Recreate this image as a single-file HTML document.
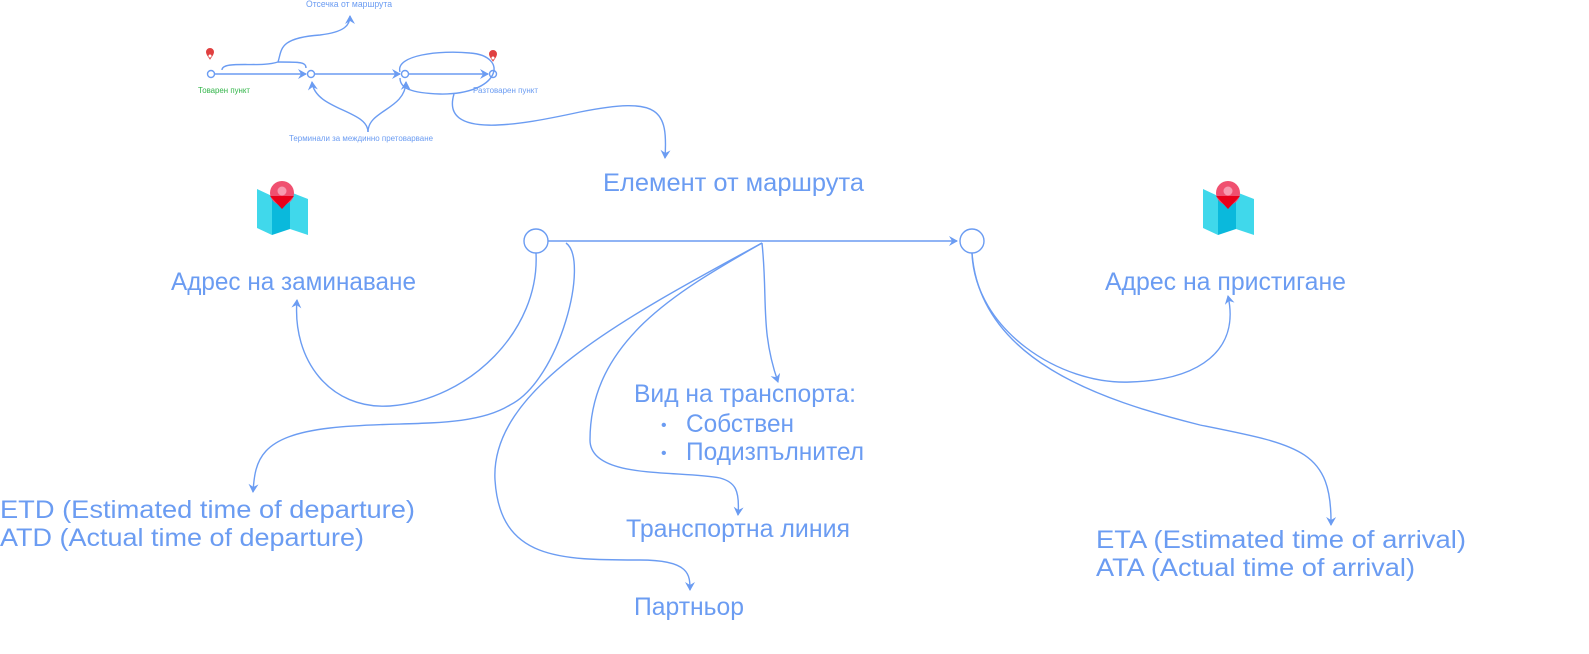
<!DOCTYPE html>
<html><head><meta charset="utf-8"><style>
body{margin:0;background:#fff;width:1589px;height:649px;overflow:hidden}
svg text{font-family:"Liberation Sans",sans-serif;fill:#6b9cf2}
</style></head><body>
<svg width="1589" height="649" viewBox="0 0 1589 649" xmlns="http://www.w3.org/2000/svg">
<defs>
<marker id="a" markerWidth="10" markerHeight="10" refX="8" refY="5" orient="auto" markerUnits="userSpaceOnUse"><path d="M0,0 L9,5 L0,10 L3,5 Z" fill="#6b9cf2"/></marker>
<g id="map">
<path d="M0,0 L15,7 L15,46 L0,39Z" fill="#40d8eb"/>
<path d="M15,7 L33,3 L33,40 L15,46Z" fill="#0ab9dc"/>
<path d="M33,3 L51,10 L51,46 L33,40Z" fill="#40d8eb"/>
<circle cx="25" cy="4" r="12" fill="#f05070"/>
<path d="M13,7 L37,7 L25,20Z" fill="#e8001a"/>
<circle cx="25" cy="2" r="4.5" fill="#f79ab0"/>
</g>
<g id="pin"><path d="M0,0 a4,4 0 1 1 8,0 c0,3 -4,7 -4,8 c0,-1 -4,-5 -4,-8z" fill="#e04040" transform="translate(-4,-4)"/><circle cx="0" cy="0" r="1.5" fill="#fff"/></g>
</defs>
<g fill="none" stroke="#6b9cf2" stroke-width="1.4">
<circle cx="211" cy="74" r="3.5"/><circle cx="311" cy="74" r="3.5"/><circle cx="405" cy="74" r="3.5"/><circle cx="493" cy="74" r="3.5"/>
<path d="M215,74 L306,74" marker-end="url(#a)"/>
<path d="M315,74 L400,74" marker-end="url(#a)"/>
<path d="M409,74 L488,74" marker-end="url(#a)"/>
<path d="M222,70 C222,60 260,68 278,62 C282,50 278,38 320,35 C345,32 350,25 350,16" marker-end="url(#a)"/>
<path d="M278,62 C300,62 306,62 306,68"/>
<path d="M368,132 C368,110 315,110 312,82" marker-end="url(#a)"/>
<path d="M368,132 C368,110 405,110 406,82" marker-end="url(#a)"/>
<path d="M400,72 C395,55 440,50 470,53 C510,56 500,95 440,94 C410,93 400,88 400,78"/>
<path d="M454,94 C440,140 520,125 580,112 C660,96 668,110 665,158" marker-end="url(#a)"/>
<circle cx="536" cy="241" r="12"/><circle cx="972" cy="241" r="12"/>
<path d="M548,241 L957,241" marker-end="url(#a)"/>
<path d="M536,253 C540,330 470,400 390,406 C330,410 292,360 297,300" marker-end="url(#a)"/>
<path d="M566,243 C590,260 560,380 510,405 C470,430 400,420 330,428 C260,436 255,460 253,492" marker-end="url(#a)"/>
<path d="M762,243 C680,290 590,340 590,440 C590,480 680,470 720,478 C735,482 740,490 738,515" marker-end="url(#a)"/>
<path d="M762,243 C620,320 490,390 495,480 C500,560 560,560 640,560 C690,560 690,575 690,590" marker-end="url(#a)"/>
<path d="M762,243 C768,300 760,330 778,382" marker-end="url(#a)"/>
<path d="M972,253 C975,330 1060,385 1130,382 C1200,380 1240,350 1228,296" marker-end="url(#a)"/>
<path d="M972,253 C980,360 1100,400 1200,425 C1300,445 1332,450 1331,525" marker-end="url(#a)"/>
</g>
<use href="#pin" x="210" y="56"/><use href="#pin" x="493" y="58"/>
<use href="#map" x="257" y="189"/><use href="#map" x="1203" y="189"/>
<text x="306" y="7" font-size="9" textLength="86" lengthAdjust="spacingAndGlyphs">Отсечка от маршрута</text>
<text x="198" y="93" font-size="8" style="fill:#33b54a" textLength="52" lengthAdjust="spacingAndGlyphs">Товарен пункт</text>
<text x="473" y="93" font-size="8" textLength="65" lengthAdjust="spacingAndGlyphs">Разтоварен пункт</text>
<text x="289" y="141" font-size="8" textLength="144" lengthAdjust="spacingAndGlyphs">Терминали за междинно претоварване</text>
<text x="603" y="191" font-size="25" textLength="261" lengthAdjust="spacingAndGlyphs">Елемент от маршрута</text>
<text x="171" y="290" font-size="25" textLength="245" lengthAdjust="spacingAndGlyphs">Адрес на заминаване</text>
<text x="1105" y="290" font-size="25" textLength="241" lengthAdjust="spacingAndGlyphs">Адрес на пристигане</text>
<text x="634" y="402" font-size="25" textLength="222" lengthAdjust="spacingAndGlyphs">Вид на транспорта:</text>
<text x="661" y="430" font-size="16">•</text>
<text x="661" y="458" font-size="16">•</text>
<text x="686" y="432" font-size="25" textLength="108" lengthAdjust="spacingAndGlyphs">Собствен</text>
<text x="686" y="460" font-size="25" textLength="178" lengthAdjust="spacingAndGlyphs">Подизпълнител</text>
<text x="0" y="518" font-size="25" textLength="415" lengthAdjust="spacingAndGlyphs">ETD (Estimated time of departure)</text>
<text x="0" y="546" font-size="25" textLength="364" lengthAdjust="spacingAndGlyphs">ATD (Actual time of departure)</text>
<text x="626" y="537" font-size="25" textLength="224" lengthAdjust="spacingAndGlyphs">Транспортна линия</text>
<text x="634" y="615" font-size="25" textLength="110" lengthAdjust="spacingAndGlyphs">Партньор</text>
<text x="1096" y="548" font-size="25" textLength="370" lengthAdjust="spacingAndGlyphs">ETA (Estimated time of arrival)</text>
<text x="1096" y="576" font-size="25" textLength="319" lengthAdjust="spacingAndGlyphs">ATA (Actual time of arrival)</text>
</svg>
</body></html>
